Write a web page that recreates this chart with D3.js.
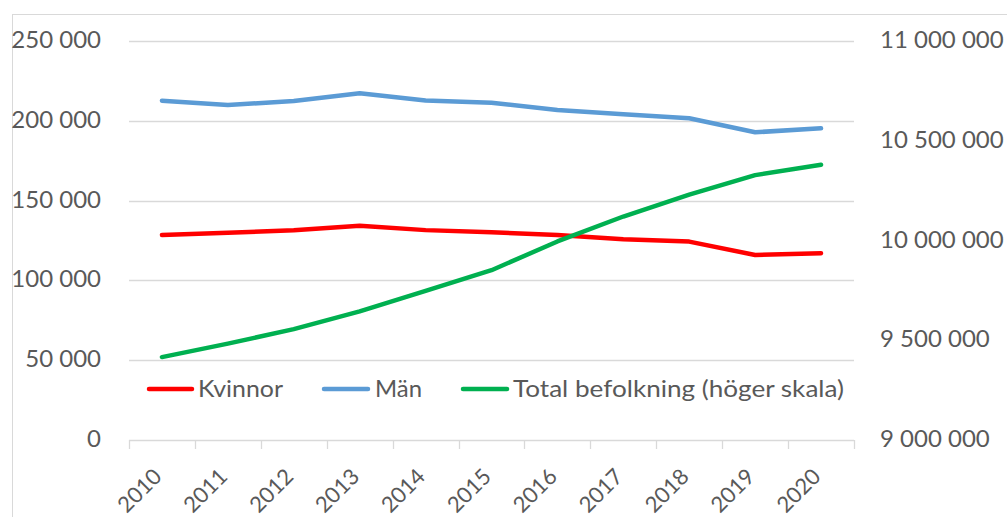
<!DOCTYPE html>
<html lang="sv">
<head>
<meta charset="UTF-8">
<title>Befolkning</title>
<script src="https://d3js.org/d3.v7.min.js"></script>
<style>
    body { margin: 0; background: #fff; }
    svg { display: block; font-family: Lato, "Open Sans", sans-serif; }
</style>
</head>
<body>
<svg width="1007" height="517"></svg>
<script>
    const years = [2010, 2011, 2012, 2013, 2014, 2015, 2016, 2017, 2018, 2019, 2020];
    const kvinnor = [128500, 129900, 131400, 134300, 131500, 130100, 128500, 125800, 124300, 115900, 117000];
    const man = [212600, 209900, 212400, 217200, 212700, 211300, 206800, 204100, 201600, 192800, 195300];
    const total = [9415570, 9482855, 9555893, 9644864, 9747355, 9851017, 9995153, 10120242, 10230185, 10327589, 10379295];
    const leftTicks = [0, 50000, 100000, 150000, 200000, 250000];
    const rightTicks = [9000000, 9500000, 10000000, 10500000, 11000000];

    const series = [
        { name: "Kvinnor", values: kvinnor, color: "#ff0000", axis: "left" },
        { name: "Män", values: man, color: "#5b9bd5", axis: "left" },
        { name: "Total befolkning (höger skala)", values: total, color: "#00b050", axis: "right" }
    ];

    const svg = d3.select("svg");
    const plotL = 129, plotR = 854, plotT = 41, plotB = 440;
    const textColor = "#595959", gridColor = "#d9d9d9";

    const x = d3.scaleBand().domain(years).range([plotL, plotR]);
    const yL = d3.scaleLinear().domain([0, 250000]).range([plotB, plotT]);
    const yR = d3.scaleLinear().domain([9000000, 11000000]).range([plotB, plotT]);
    const fmt = v => d3.format(",")(v).replace(/,/g, " ");
    const cx = d => x(d) + x.bandwidth() / 2;

    // chart border
    svg.append("rect")
        .attr("x", 12.5).attr("y", 14.5)
        .attr("width", 1010).attr("height", 520)
        .attr("fill", "none").attr("stroke", gridColor);

    // gridlines + axis labels
    svg.selectAll(".grid").data(leftTicks.filter(d => d > 0)).enter().append("line")
        .attr("x1", plotL).attr("x2", plotR)
        .attr("y1", d => Math.round(yL(d)) + 0.5).attr("y2", d => Math.round(yL(d)) + 0.5)
        .attr("stroke", gridColor).attr("stroke-width", 1.3);

    svg.selectAll(".ltick").data(leftTicks).enter().append("text")
        .attr("x", 101).attr("y", d => yL(d) + 7)
        .attr("text-anchor", "end").attr("fill", textColor)
        .style("font-size", "24px").text(fmt);

    svg.selectAll(".rtick").data(rightTicks).enter().append("text")
        .attr("x", 880).attr("y", d => yR(d) + 7)
        .attr("fill", textColor)
        .style("font-size", "24px").text(fmt);

    // x axis
    svg.append("line")
        .attr("x1", plotL).attr("x2", plotR)
        .attr("y1", plotB + 0.5).attr("y2", plotB + 0.5)
        .attr("stroke", gridColor).attr("stroke-width", 1.3);

    const bounds = years.map(d => x(d)).concat([plotR]);
    svg.selectAll(".xtick").data(bounds).enter().append("line")
        .attr("x1", d => Math.round(d) + 0.5).attr("x2", d => Math.round(d) + 0.5)
        .attr("y1", plotB).attr("y2", plotB + 9)
        .attr("stroke", gridColor).attr("stroke-width", 1.3);

    svg.selectAll(".xlabel").data(years).enter().append("text")
        .attr("transform", d => `translate(${cx(d) + 1},478) rotate(-45)`)
        .attr("text-anchor", "end").attr("fill", textColor)
        .style("font-size", "22px").text(d => d);

    // lines
    series.forEach(s => {
        const y = s.axis === "left" ? yL : yR;
        const line = d3.line().x((v, i) => cx(years[i])).y(v => y(v));
        svg.append("path")
            .datum(s.values)
            .attr("d", line)
            .attr("fill", "none")
            .attr("stroke", s.color)
            .attr("stroke-width", 4.5)
            .attr("stroke-linecap", "round")
            .attr("stroke-linejoin", "round");
    });

    // legend
    const legendPos = [
        { x1: 149, x2: 192, tx: 198, w: 85 },
        { x1: 324, x2: 368, tx: 375, w: 47 },
        { x1: 463, x2: 507, tx: 513, w: 331 }
    ];
    series.forEach((s, i) => {
        const p = legendPos[i];
        svg.append("line")
            .attr("x1", p.x1).attr("x2", p.x2)
            .attr("y1", 389).attr("y2", 389)
            .attr("stroke", s.color).attr("stroke-width", 4.5)
            .attr("stroke-linecap", "round");
        svg.append("text")
            .attr("x", p.tx).attr("y", 397)
            .attr("fill", textColor)
            .attr("textLength", p.w).attr("lengthAdjust", "spacingAndGlyphs")
            .style("font-size", "23px").text(s.name);
    });
</script>
</body>
</html>
